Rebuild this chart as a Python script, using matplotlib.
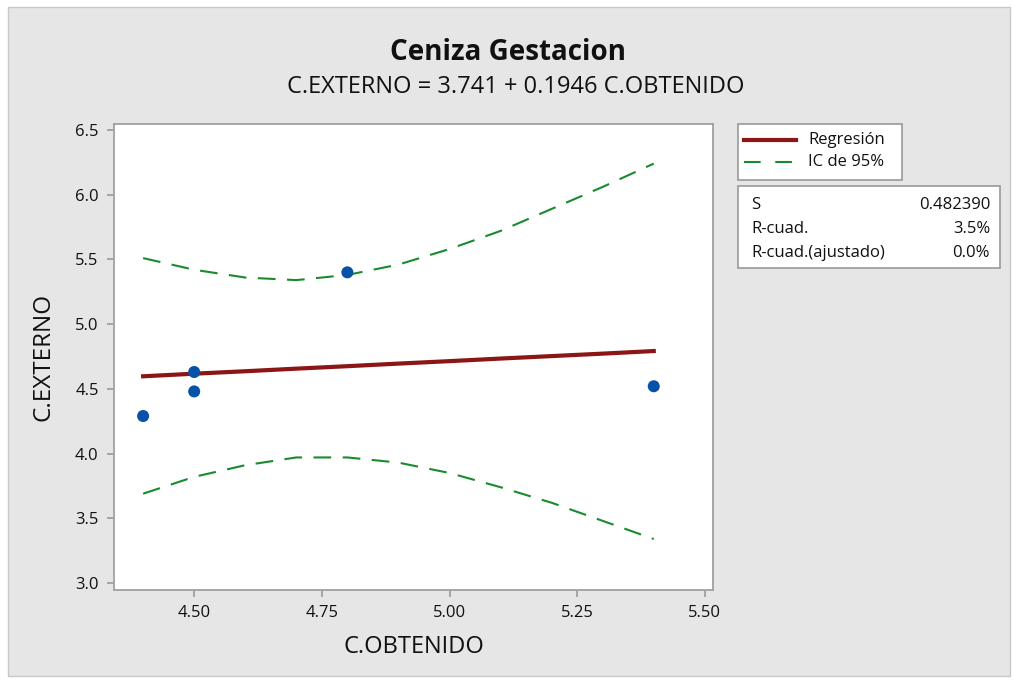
import matplotlib
matplotlib.use("Agg")
import matplotlib.pyplot as plt
from matplotlib.patches import Rectangle

plt.rcParams['font.family'] = ['Open Sans', 'DejaVu Sans']

# Data
x_obs = [4.4, 4.5, 4.5, 4.8, 5.4]
y_obs = [4.29, 4.63, 4.48, 5.40, 4.52]

x_fit = [4.4, 4.5, 4.6, 4.7, 4.8, 4.9, 5.0, 5.1, 5.2, 5.3, 5.4]
y_fit = [4.597, 4.617, 4.636, 4.656, 4.675, 4.695, 4.714, 4.734, 4.753, 4.772, 4.792]
ci_upper = [5.51, 5.42, 5.36, 5.34, 5.38, 5.46, 5.58, 5.72, 5.89, 6.06, 6.24]
ci_lower = [3.69, 3.82, 3.91, 3.97, 3.97, 3.93, 3.85, 3.74, 3.62, 3.48, 3.34]

x_ticks = [4.50, 4.75, 5.00, 5.25, 5.50]
x_ticklabels = ["4.50", "4.75", "5.00", "5.25", "5.50"]
y_ticks = [3.0, 3.5, 4.0, 4.5, 5.0, 5.5, 6.0, 6.5]
y_ticklabels = ["3.0", "3.5", "4.0", "4.5", "5.0", "5.5", "6.0", "6.5"]

stats_names = ["S", "R-cuad.", "R-cuad.(ajustado)"]
stats_values = ["0.482390", "3.5%", "0.0%"]

W, H = 1013, 680
fig = plt.figure(figsize=(W / 100, H / 100), dpi=100)
fig.patch.set_facecolor("white")
bg = Rectangle((8 / W, 1 - 676 / H), (1010 - 8) / W, (676 - 7) / H,
               transform=fig.transFigure, facecolor="#e6e6e6",
               edgecolor="#c8c8c8", lw=1, zorder=-10)
fig.patches.append(bg)

ax = fig.add_axes([114 / W, 1 - 590 / H, (713 - 114) / W, (590 - 124) / H])
ax.set_facecolor("white")
for s in ax.spines.values():
    s.set_color("#a0a0a0")
    s.set_linewidth(1.3)

green = "#1a8a2e"
red = "#8c1515"
dash = (0, (8.5, 5.5))
ax.plot(x_fit, ci_upper, color=green, lw=1.5, ls=dash, zorder=2)
ax.plot(x_fit, ci_lower, color=green, lw=1.5, ls=dash, zorder=2)
ax.plot(x_fit, y_fit, color=red, lw=3.0, zorder=3)
ax.scatter(x_obs, y_obs, s=75, color="#0652a8", zorder=4, edgecolors="none")

ax.set_xlim(4.343, 5.516)
ax.set_ylim(2.946, 6.546)
ax.set_xticks(x_ticks)
ax.set_xticklabels(x_ticklabels)
ax.set_yticks(y_ticks)
ax.set_yticklabels(y_ticklabels)
ax.tick_params(axis="both", labelsize=12, color="#a0a0a0", length=5, width=1.3,
               labelcolor="#111111", pad=6)

ax.set_xlabel("C.OBTENIDO", fontsize=17, labelpad=10, color="#111111")
ax.set_ylabel("C.EXTERNO", fontsize=17.5, labelpad=14, color="#111111")

fig.text(508 / W, 1 - 52 / H, "Ceniza Gestacion", ha="center", va="center",
         fontsize=20, fontweight="bold", color="#111111")
fig.text(516 / W, 1 - 87 / H, "C.EXTERNO = 3.741 + 0.1946 C.OBTENIDO",
         ha="center", va="center", fontsize=17, color="#111111")

# Legend box
lg = Rectangle((738 / W, 1 - 180 / H), (902 - 738) / W, (180 - 124) / H,
               transform=fig.transFigure, facecolor="white", edgecolor="#a0a0a0", lw=1.3)
fig.patches.append(lg)
fig.add_artist(plt.Line2D([744 / W, 796 / W], [1 - 140 / H, 1 - 140 / H],
                          transform=fig.transFigure, color=red, lw=3.0))
fig.add_artist(plt.Line2D([744 / W, 796 / W], [1 - 162 / H, 1 - 162 / H],
                          transform=fig.transFigure, color=green, lw=1.5,
                          ls=(0, (8, 7))))
fig.text(808 / W, 1 - 140 / H, "Regresión", va="center", fontsize=12, color="#111111")
fig.text(808 / W, 1 - 162 / H, "IC de 95%", va="center", fontsize=12, color="#111111")

# Stats box
sb = Rectangle((738 / W, 1 - 268 / H), (1000 - 738) / W, (268 - 186) / H,
               transform=fig.transFigure, facecolor="white", edgecolor="#a0a0a0", lw=1.3)
fig.patches.append(sb)
for i, (n, v) in enumerate(zip(stats_names, stats_values)):
    yy = 1 - (205 + i * 24) / H
    fig.text(751 / W, yy, n, va="center", fontsize=12, color="#111111")
    fig.text(990 / W, yy, v, va="center", ha="right", fontsize=12, color="#111111")

fig.savefig("out.png", dpi=100, facecolor=fig.get_facecolor())
